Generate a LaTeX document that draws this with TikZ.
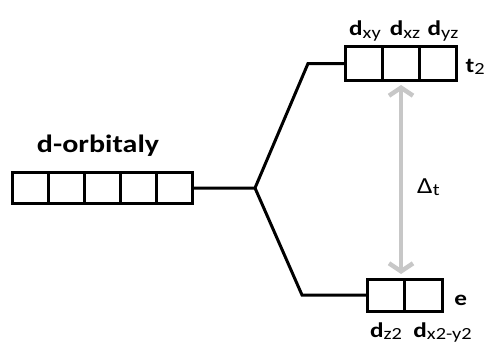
\documentclass[tikz,border=0pt]{standalone}
\usepackage{fontspec}
\setmainfont{Carlito}[FakeStretch=1.2]
\usetikzlibrary{positioning,arrows.meta}
\newcommand{\lo}[1]{\raisebox{-2.5pt}{\mdseries\fontsize{17}{17}\selectfont #1}}
\tikzset{
  orb/.style  = {shape=rectangle, draw, line width=3pt, outer sep=0pt,
                 inner sep=0pt, minimum width=36pt, minimum height=31pt},
  lvl/.style  = {line width=3pt},
  lbl/.style  = {font=\bfseries\fontsize{21}{23}\selectfont, inner sep=0pt},
  gap/.style  = {draw=black!22, line width=4.5pt,
                 {Straight Barb[length=8pt,width=24pt]}-{Straight Barb[length=8pt,width=24pt]}}
}
\begin{document}
\begin{tikzpicture}[x=1pt,y=-1pt]
  \useasboundingbox (0,0) rectangle (489,345);

  % five degenerate d orbitals
  \node[orb] (a1) at (30,188) {};
  \node[orb, right=0pt of a1] (a2) {};
  \node[orb, right=0pt of a2] (a3) {};
  \node[orb, right=0pt of a3] (a4) {};
  \node[orb, right=0pt of a4] (a5) {};
  \node[lbl, font=\bfseries\fontsize{25}{27}\selectfont, anchor=base] (dorb) at (98,152) {d-orbitaly};

  % t2 set
  \node[orb, minimum width=37pt, minimum height=33pt] (t1) at (364,63.5) {};
  \node[orb, minimum width=37pt, minimum height=33pt, right=0pt of t1] (t2) {};
  \node[orb, minimum width=37pt, minimum height=33pt, right=0pt of t2] (t3) {};

  % e set
  \node[orb, minimum width=37.5pt, minimum height=32pt] (b1) at (386,295) {};
  \node[orb, minimum width=37.5pt, minimum height=32pt, right=0pt of b1] (b2) {};

  % splitting lines
  \coordinate (br) at (255,188);
  \coordinate (up) at (308,63.5);
  \coordinate (dn) at (302,295);
  \draw[lvl] (a5.east) -- (br) -- (up) -- (t1.west);
  \draw[lvl] (br) -- (dn) -- (b1.west);

  % labels
  \node[lbl, anchor=base] (lxy) at ([xshift=1pt,yshift=11pt]t1.north) {d\lo{xy}};
  \node[lbl, anchor=base] (lxz) at ([xshift=4pt,yshift=11pt]t2.north) {d\lo{xz}};
  \node[lbl, anchor=base] (lyz) at ([xshift=5pt,yshift=11pt]t3.north) {d\lo{yz}};
  \node[lbl, anchor=base west] (lt) at ([xshift=9pt,yshift=-8.5pt]t3.east) {t\lo{2}};
  \node[lbl, anchor=base west] (le) at ([xshift=12pt,yshift=-10pt]b2.east) {e};
  \node[lbl, anchor=base] (lz) at ([yshift=-26pt]b1.south) {d\lo{z2}};
  \node[lbl, anchor=base west] (lx) at ([xshift=8.5pt,yshift=-26pt]b2.south west) {d\lo{x2-y2}};

  % splitting energy
  \draw[gap] ([yshift=-5pt]t2.south) -- ([yshift=5pt]t2.south |- b1.north);
  \node[font=\fontsize{23}{25}\selectfont, inner sep=0pt, anchor=base west] (dt) at (417,193) {Δ\lo{t}};
\end{tikzpicture}
\end{document}
